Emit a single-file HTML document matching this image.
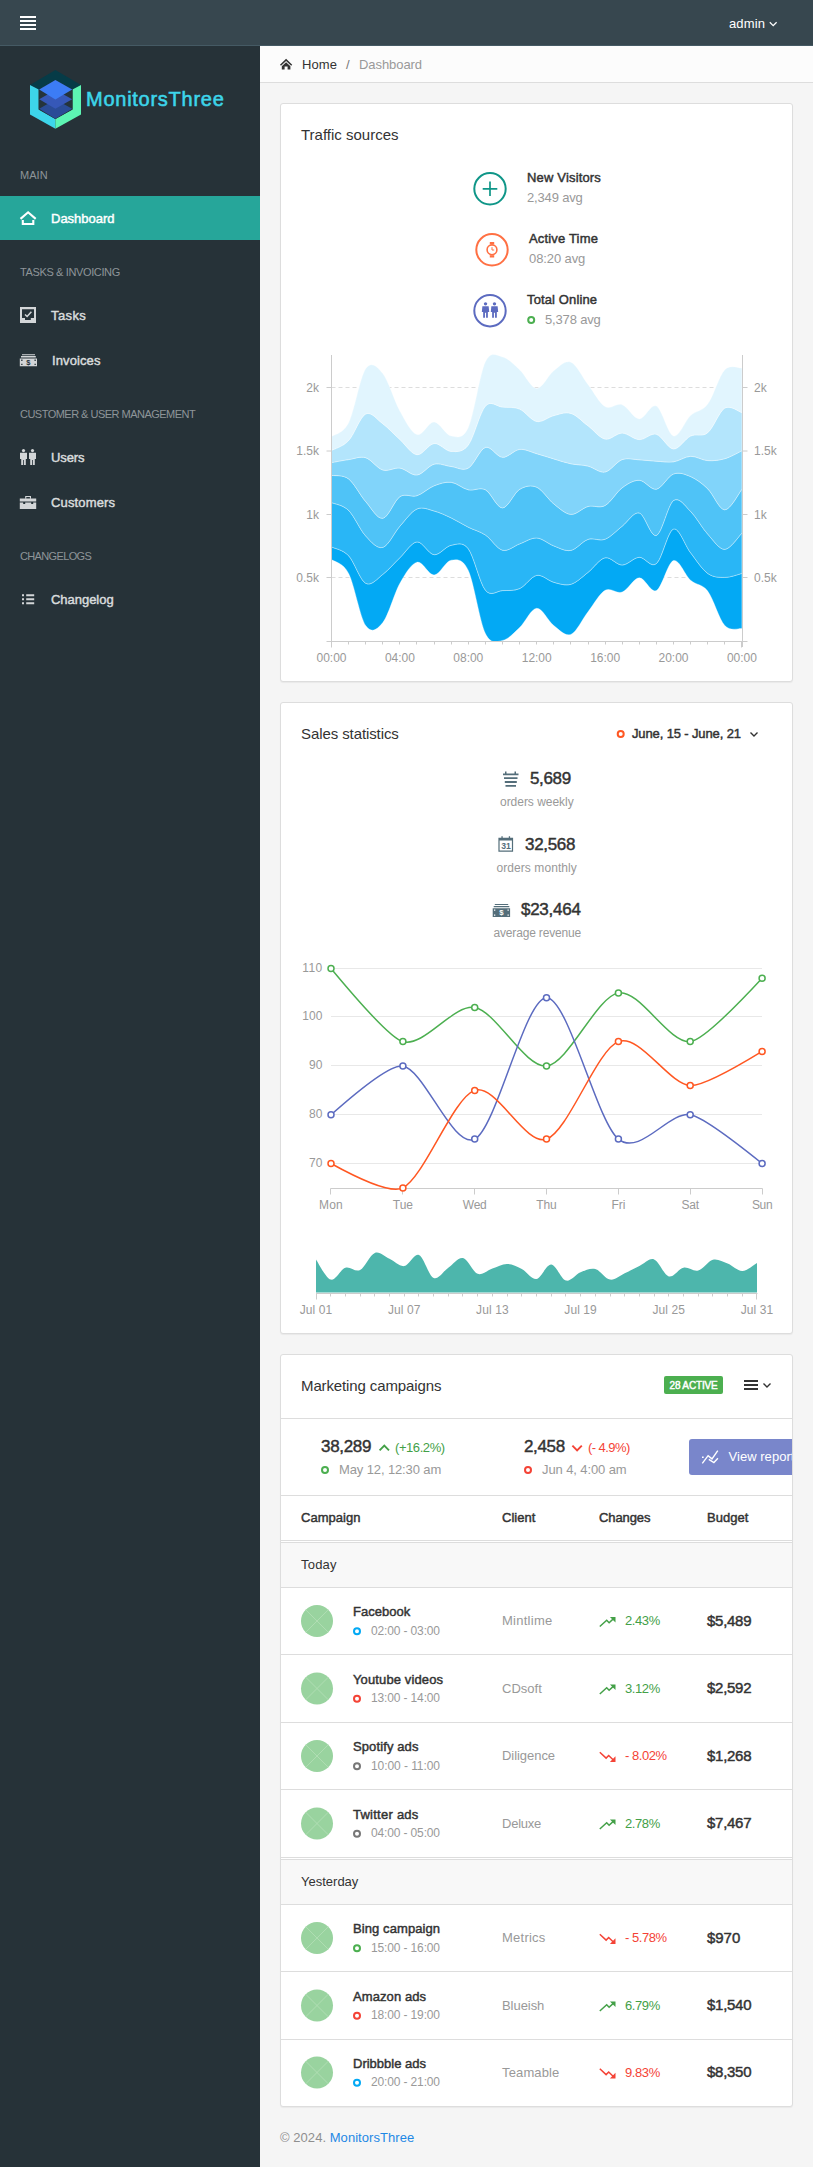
<!DOCTYPE html>
<html lang="en"><head><meta charset="utf-8"><title>MonitorsThree - Dashboard</title>
<style>
*{box-sizing:border-box}
html,body{margin:0;padding:0}
body{width:813px;height:2167px;position:relative;overflow:hidden;background:#f5f5f5;font-family:"Liberation Sans",sans-serif;font-size:13px;color:#333;line-height:1.5385}
.abs{position:absolute}
.t{position:absolute;white-space:nowrap;line-height:1}
#nav{left:0;top:0;width:813px;height:46px;background:#37474f;border-bottom:1px solid #455a64}
#nav .bar{position:absolute;left:20px;width:16px;height:2px;background:#fff}
#side{left:0;top:46px;width:260px;height:2121px;background:#263238}
.sh{color:#8e9598;font-size:11px;left:20px;letter-spacing:0}
.si{color:#d9dcdd;font-size:13px;-webkit-text-stroke:0.45px currentColor;left:51px}
#act{left:0;top:196px;width:260px;height:44px;background:#26a69a}
#bc{left:260px;top:46px;width:553px;height:37px;background:#fcfcfc;border-bottom:1px solid #ddd}
.card{position:absolute;left:280px;width:513px;background:#fff;border:1px solid #ddd;border-radius:3px;box-shadow:0 1px 1px rgba(0,0,0,.05)}
.ct{font-size:15px;color:#333}
.mut{color:#999}
.b{font-weight:normal;-webkit-text-stroke:0.45px currentColor}
svg{position:absolute;left:0;top:0;overflow:visible}
svg text{font-family:"Liberation Sans",sans-serif}
</style></head>
<body>
<div id="nav" class="abs"><div class="bar" style="top:16px"></div><div class="bar" style="top:20px"></div><div class="bar" style="top:24px"></div><div class="bar" style="top:28px"></div><div class="t" style="letter-spacing:0.14px;left:729px;top:17px;font-size:13px;color:#fff">admin</div><svg width="813" height="46"><path d="M769.8 22.3L773.2 25.7L776.6 22.3" fill="none" stroke="#fff" stroke-width="1.3"/></svg></div>
<div id="side" class="abs"></div>
<div id="act" class="abs"></div>
<svg width="260" height="170" style="left:0;top:0">
<polygon points="55.4,70 81,85 72.4,89.6 55.4,80 38.6,89.6 30,85" fill="#063b47"/>
<polygon points="30,85 38.7,89.5 38.7,109.5 55.4,119 55.4,128.7 30,114.6" fill="#3dd5ea"/>
<polygon points="81,85 72.5,89.5 72.5,109.5 55.4,119 55.4,128.7 81,114.6" fill="#5df5b3"/>
<polygon points="38.7,89.5 55.4,80 72.5,89.5 72.5,109.5 55.4,119 38.7,109.5" fill="#25343b"/>
<polygon points="39.2,108.8 55.4,99.5 72.2,108.8 55.4,118.7" fill="#2a4c97"/>
<polygon points="39.2,99.3 55.4,90 72.2,99.3 55.4,108.8" fill="#3658b8"/>
<polygon points="39.2,89.6 55.4,80.1 72.2,89.6 55.4,99.5" fill="#3c7cf5"/>
</svg>
<div class="t" style="letter-spacing:0.74px;left:86px;top:88.5px;font-size:20px;-webkit-text-stroke:0.55px #3dd5ea;color:#3dd5ea">MonitorsThree</div>
<div class="t sh" style="letter-spacing:0.03px;top:170px">MAIN</div><div class="t sh" style="letter-spacing:-0.37px;top:267px">TASKS &amp; INVOICING</div><div class="t sh" style="letter-spacing:-0.52px;top:409px">CUSTOMER &amp; USER MANAGEMENT</div><div class="t sh" style="letter-spacing:-0.64px;top:551px">CHANGELOGS</div><div class="t si" style="top:212px;color:#fff">Dashboard</div><div class="t si" style="letter-spacing:0.40px;top:309px">Tasks</div><div class="t si" style="letter-spacing:0.11px;top:354px;left:52px">Invoices</div><div class="t si" style="letter-spacing:-0.09px;top:451px">Users</div><div class="t si" style="letter-spacing:0.14px;top:496px">Customers</div><div class="t si" style="letter-spacing:-0.03px;top:593px">Changelog</div>
<svg width="260" height="700" style="left:0;top:0">
<g fill="none" stroke="#fff" stroke-width="2.1"><path d="M20.5 218.9L28.1 212.3L35.7 218.9"/><path d="M22.8 220V224H33.3V220"/></g>
<g fill="#d3d6d8">
<path fill-rule="evenodd" d="M20 307h16v16h-16z M22 309.2v8.8h3v2.1h5.8v-2.1h3.2v-8.8z"/>
<path d="M25 314.5l2.1 2l4.3-4.7" fill="none" stroke="#d3d6d8" stroke-width="1.5"/>
<path d="M22 354.2h13v1.1h-13z M21 356.1h14.8v1.3h-14.8z M19.8 358.4h17.2v7.9h-17.2z"/>
<path d="M21.2 359.6h1.3v1.3h-1.3z M34.5 359.6h1.3v1.3h-1.3z M21.2 363.8h1.3v1.3h-1.3z M34.5 363.8h1.3v1.3h-1.3z" fill="#263238"/>
<text x="28.4" y="365.2" font-size="7.5" font-weight="bold" text-anchor="middle" fill="#263238">$</text>
<circle cx="23.5" cy="450.6" r="1.6"/><circle cx="32.5" cy="450.6" r="1.6"/>
<path d="M20 452.8h7v6.3h-1.2v5.8h-1.9v-5h-0.8v5h-1.9v-5.8h-1.2z"/>
<path d="M29 452.8h7v6.3h-1.2v5.8h-1.9v-5h-0.8v5h-1.9v-5.8h-1.2z"/>
<path fill-rule="evenodd" d="M25.2 496h5.8v2.8h-1.1v-1.7h-3.6v1.7h-1.1z"/>
<path d="M19.8 498.6h16.4v2.9h-16.4z M19.8 502.4h3.4v1.6h2v-1.6h6v1.6h2v-1.6h3v6.6h-16.4z"/>
<path d="M22 594.2h2v2h-2z M26.2 594.2h8v2h-8z M22 598.3h2v2h-2z M26.2 598.3h8v2h-8z M22 602.3h2v2h-2z M26.2 602.3h8v2h-8z"/>
</g>
</svg>
<div id="bc" class="abs"></div>
<svg width="813" height="90"><path d="M280.5 65.2L286.1 59.9L291.7 65.2" fill="none" stroke="#333" stroke-width="1.5"/><path d="M286.1 62.3L290.4 66.3V69.6H287.6V66.6H284.6V69.6H281.8V66.3Z" fill="#333"/></svg><div class="t" style="letter-spacing:0.07px;left:302px;top:58px;font-size:13px;color:#333">Home</div><div class="t" style="letter-spacing:1.73px;left:346px;top:58px;font-size:13px;color:#777">/</div><div class="t" style="letter-spacing:-0.07px;left:359px;top:58px;font-size:13px;color:#999">Dashboard</div>
<div class="card" style="top:103px;height:579px"></div>
<div class="t ct" style="left:301px;top:127px">Traffic sources</div>
<svg width="813" height="700">
<circle cx="490" cy="188.8" r="15.7" fill="none" stroke="#0f9688" stroke-width="2"/>
<path d="M490 181.5v14.6M482.7 188.8h14.6" stroke="#0f9688" stroke-width="1.7" fill="none"/>
<circle cx="492" cy="249.8" r="15.7" fill="none" stroke="#ff7043" stroke-width="2"/>
<circle cx="492" cy="249.8" r="4.9" fill="none" stroke="#ff7043" stroke-width="1.6"/>
<path d="M489.8 242h4.4v2.4h-4.4z M489.8 255.2h4.4v2.4h-4.4z" fill="#ff7043"/>
<path d="M492 247.2v2.8h2.2" stroke="#ff7043" stroke-width="1" fill="none"/>
<circle cx="490" cy="310.7" r="15.7" fill="none" stroke="#5c6bc0" stroke-width="2"/>
<g fill="#5c6bc0" transform="translate(490,310.8) scale(1.12) translate(-490,-311.2)"><circle cx="486" cy="305" r="1.5"/><circle cx="494" cy="305" r="1.5"/>
<path d="M483.2 307.2h5.6l0.5 5h-1.2v5.3h-1.6v-4.5h-1v4.5h-1.6v-5.3h-1.2z"/>
<path d="M491.2 307.2h5.6l0.5 5h-1.2v5.3h-1.6v-4.5h-1v4.5h-1.6v-5.3h-1.2z"/></g>
<circle cx="531.2" cy="320" r="3" fill="#fff" stroke="#4caf50" stroke-width="2"/>
</svg>
<div class="t b" style="letter-spacing:0.17px;left:527px;top:171px">New Visitors</div><div class="t mut" style="letter-spacing:-0.16px;left:527px;top:191px">2,349 avg</div><div class="t b" style="letter-spacing:0.17px;left:529px;top:232px">Active Time</div><div class="t mut" style="letter-spacing:-0.10px;left:529px;top:252px">08:20 avg</div><div class="t b" style="letter-spacing:0.13px;left:527px;top:293px">Total Online</div><div class="t mut" style="letter-spacing:-0.16px;left:545px;top:313px">5,378 avg</div>
<svg width="813" height="700"><path d="M331.5 387.5H742.5" stroke="#ddd" stroke-dasharray="4,3" stroke-width="1" fill="none"/><path d="M331.5 451.0H742.5" stroke="#ddd" stroke-dasharray="4,3" stroke-width="1" fill="none"/><path d="M331.5 514.5H742.5" stroke="#ddd" stroke-dasharray="4,3" stroke-width="1" fill="none"/><path d="M331.5 577.5H742.5" stroke="#ddd" stroke-dasharray="4,3" stroke-width="1" fill="none"/><path d="M331.5,546.9C334.4,548.4 342.9,549.6 348.6,555.7C354.3,561.8 360.0,580.2 365.7,583.3C371.4,586.4 377.1,578.7 382.8,574.4C388.5,570.1 394.2,563.1 399.9,557.7C405.6,552.3 411.3,542.4 417.0,541.9C422.7,541.4 428.4,554.1 434.1,554.7C439.8,555.3 445.5,546.3 451.2,545.3C456.9,544.3 462.6,541.3 468.3,548.8C474.0,556.3 479.7,583.2 485.4,590.2C491.1,597.2 496.8,590.9 502.5,590.6C508.2,590.3 513.9,591.1 519.6,588.6C525.3,586.1 531.0,576.5 536.7,575.4C542.4,574.3 548.1,580.8 553.8,582.3C559.5,583.8 565.2,585.9 570.9,584.3C576.6,582.6 582.3,576.8 588.0,572.4C593.7,568.0 599.4,559.0 605.1,557.8C610.8,556.6 616.5,565.1 622.2,565.0C627.9,564.9 633.6,557.5 639.3,557.3C645.0,557.1 650.7,568.3 656.4,563.6C662.1,558.9 667.8,530.9 673.5,529.1C679.2,527.3 684.9,545.4 690.6,552.8C696.3,560.2 702.0,569.3 707.7,573.4C713.4,577.5 719.1,577.4 724.8,577.4C730.5,577.4 739.1,574.1 741.9,573.4L741.9,628.5C739.1,628.0 730.5,631.8 724.8,625.6C719.1,619.4 713.4,598.7 707.7,591.1C702.0,583.5 696.3,585.4 690.6,580.3C684.9,575.2 679.2,558.9 673.5,560.6C667.8,562.3 662.1,587.7 656.4,590.6C650.7,593.5 645.0,577.5 639.3,577.8C633.6,578.0 627.9,590.0 622.2,592.1C616.5,594.2 610.8,587.0 605.1,590.3C599.4,593.6 593.7,604.4 588.0,611.8C582.3,619.1 576.6,632.1 570.9,634.4C565.2,636.7 559.5,630.0 553.8,625.6C548.1,621.2 542.4,608.0 536.7,608.3C531.0,608.6 525.3,622.2 519.6,627.6C513.9,633.0 508.2,639.4 502.5,640.4C496.8,641.4 491.1,645.1 485.4,633.5C479.7,621.9 474.0,582.7 468.3,570.5C462.6,558.3 456.9,559.5 451.2,560.2C445.5,561.0 439.8,574.7 434.1,575.0C428.4,575.3 422.7,560.8 417.0,562.2C411.3,563.6 405.6,573.2 399.9,583.3C394.2,593.4 388.5,615.5 382.8,622.6C377.1,629.7 371.4,633.8 365.7,625.6C360.0,617.4 354.3,584.4 348.6,573.4C342.9,562.4 334.4,561.9 331.5,559.6Z" fill="#03a9f4" stroke="#fff" stroke-opacity="0.55" stroke-width="0.6"/><path d="M331.5,502.6C334.4,503.9 342.9,504.8 348.6,510.4C354.3,516.0 360.0,529.8 365.7,536.0C371.4,542.2 377.1,549.0 382.8,547.4C388.5,545.8 394.2,532.6 399.9,526.2C405.6,519.8 411.3,511.5 417.0,509.0C422.7,506.5 428.4,509.5 434.1,511.0C439.8,512.5 445.5,515.2 451.2,517.9C456.9,520.6 462.6,524.4 468.3,527.2C474.0,530.1 479.7,531.2 485.4,535.0C491.1,538.8 496.8,548.7 502.5,550.2C508.2,551.7 513.9,545.9 519.6,543.9C525.3,541.9 531.0,537.7 536.7,538.0C542.4,538.3 548.1,543.8 553.8,545.9C559.5,548.0 565.2,551.5 570.9,550.4C576.6,549.3 582.3,541.3 588.0,539.4C593.7,537.5 599.4,541.4 605.1,539.2C610.8,537.0 616.5,530.6 622.2,526.2C627.9,521.8 633.6,511.5 639.3,513.0C645.0,514.5 650.7,537.5 656.4,535.4C662.1,533.3 667.8,504.6 673.5,500.6C679.2,496.6 684.9,505.8 690.6,511.4C696.3,517.0 702.0,527.8 707.7,534.1C713.4,540.4 719.1,549.6 724.8,549.4C730.5,549.2 739.1,535.8 741.9,533.1L741.9,573.4C739.1,574.1 730.5,577.4 724.8,577.4C719.1,577.4 713.4,577.5 707.7,573.4C702.0,569.3 696.3,560.2 690.6,552.8C684.9,545.4 679.2,527.3 673.5,529.1C667.8,530.9 662.1,558.9 656.4,563.6C650.7,568.3 645.0,557.1 639.3,557.3C633.6,557.5 627.9,564.9 622.2,565.0C616.5,565.1 610.8,556.6 605.1,557.8C599.4,559.0 593.7,568.0 588.0,572.4C582.3,576.8 576.6,582.6 570.9,584.3C565.2,585.9 559.5,583.8 553.8,582.3C548.1,580.8 542.4,574.3 536.7,575.4C531.0,576.5 525.3,586.1 519.6,588.6C513.9,591.1 508.2,590.3 502.5,590.6C496.8,590.9 491.1,597.2 485.4,590.2C479.7,583.2 474.0,556.3 468.3,548.8C462.6,541.3 456.9,544.3 451.2,545.3C445.5,546.3 439.8,555.3 434.1,554.7C428.4,554.1 422.7,541.4 417.0,541.9C411.3,542.4 405.6,552.3 399.9,557.7C394.2,563.1 388.5,570.1 382.8,574.4C377.1,578.7 371.4,586.4 365.7,583.3C360.0,580.2 354.3,561.8 348.6,555.7C342.9,549.6 334.4,548.4 331.5,546.9Z" fill="#29b6f6" stroke="#fff" stroke-opacity="0.55" stroke-width="0.6"/><path d="M331.5,475.4C334.4,476.0 342.9,474.5 348.6,478.9C354.3,483.3 360.0,495.0 365.7,501.6C371.4,508.2 377.1,519.1 382.8,518.3C388.5,517.5 394.2,500.5 399.9,496.7C405.6,492.9 411.3,497.5 417.0,495.7C422.7,493.9 428.4,488.0 434.1,485.8C439.8,483.6 445.5,481.6 451.2,482.3C456.9,483.0 462.6,488.6 468.3,489.8C474.0,491.1 479.7,486.8 485.4,489.8C491.1,492.8 496.8,508.0 502.5,507.9C508.2,507.8 513.9,492.8 519.6,489.4C525.3,485.9 531.0,484.8 536.7,487.2C542.4,489.6 548.1,499.4 553.8,503.9C559.5,508.4 565.2,514.0 570.9,514.4C576.6,514.8 582.3,508.0 588.0,506.5C593.7,505.0 599.4,508.6 605.1,505.5C610.8,502.4 616.5,492.0 622.2,487.8C627.9,483.6 633.6,480.1 639.3,480.3C645.0,480.5 650.7,490.2 656.4,489.2C662.1,488.1 667.8,476.1 673.5,474.0C679.2,471.9 684.9,474.1 690.6,476.6C696.3,479.1 702.0,483.3 707.7,488.8C713.4,494.3 719.1,509.7 724.8,509.8C730.5,509.9 739.1,492.6 741.9,489.2L741.9,533.1C739.1,535.8 730.5,549.2 724.8,549.4C719.1,549.6 713.4,540.4 707.7,534.1C702.0,527.8 696.3,517.0 690.6,511.4C684.9,505.8 679.2,496.6 673.5,500.6C667.8,504.6 662.1,533.3 656.4,535.4C650.7,537.5 645.0,514.5 639.3,513.0C633.6,511.5 627.9,521.8 622.2,526.2C616.5,530.6 610.8,537.0 605.1,539.2C599.4,541.4 593.7,537.5 588.0,539.4C582.3,541.3 576.6,549.3 570.9,550.4C565.2,551.5 559.5,548.0 553.8,545.9C548.1,543.8 542.4,538.3 536.7,538.0C531.0,537.7 525.3,541.9 519.6,543.9C513.9,545.9 508.2,551.7 502.5,550.2C496.8,548.7 491.1,538.8 485.4,535.0C479.7,531.2 474.0,530.1 468.3,527.2C462.6,524.4 456.9,520.6 451.2,517.9C445.5,515.2 439.8,512.5 434.1,511.0C428.4,509.5 422.7,506.5 417.0,509.0C411.3,511.5 405.6,519.8 399.9,526.2C394.2,532.6 388.5,545.8 382.8,547.4C377.1,549.0 371.4,542.2 365.7,536.0C360.0,529.8 354.3,516.0 348.6,510.4C342.9,504.8 334.4,503.9 331.5,502.6Z" fill="#4fc3f7" stroke="#fff" stroke-opacity="0.55" stroke-width="0.6"/><path d="M331.5,462.6C334.4,462.1 342.9,460.4 348.6,459.6C354.3,458.8 360.0,456.0 365.7,457.7C371.4,459.4 377.1,468.3 382.8,470.0C388.5,471.7 394.2,467.3 399.9,468.1C405.6,468.9 411.3,475.6 417.0,475.0C422.7,474.4 428.4,465.6 434.1,464.2C439.8,462.8 445.5,465.9 451.2,466.5C456.9,467.1 462.6,471.3 468.3,468.1C474.0,464.9 479.7,449.2 485.4,447.4C491.1,445.6 496.8,457.0 502.5,457.3C508.2,457.6 513.9,450.0 519.6,449.4C525.3,448.8 531.0,452.1 536.7,453.7C542.4,455.3 548.1,457.2 553.8,458.9C559.5,460.6 565.2,462.6 570.9,463.8C576.6,465.0 582.3,464.7 588.0,466.1C593.7,467.5 599.4,473.1 605.1,472.0C610.8,470.9 616.5,461.6 622.2,459.6C627.9,457.6 633.6,459.5 639.3,459.8C645.0,460.1 650.7,460.9 656.4,461.2C662.1,461.5 667.8,462.6 673.5,461.8C679.2,461.0 684.9,456.5 690.6,456.3C696.3,456.1 702.0,460.2 707.7,460.6C713.4,461.0 719.1,460.3 724.8,458.7C730.5,457.1 739.1,452.1 741.9,450.8L741.9,489.2C739.1,492.6 730.5,509.9 724.8,509.8C719.1,509.7 713.4,494.3 707.7,488.8C702.0,483.3 696.3,479.1 690.6,476.6C684.9,474.1 679.2,471.9 673.5,474.0C667.8,476.1 662.1,488.1 656.4,489.2C650.7,490.2 645.0,480.5 639.3,480.3C633.6,480.1 627.9,483.6 622.2,487.8C616.5,492.0 610.8,502.4 605.1,505.5C599.4,508.6 593.7,505.0 588.0,506.5C582.3,508.0 576.6,514.8 570.9,514.4C565.2,514.0 559.5,508.4 553.8,503.9C548.1,499.4 542.4,489.6 536.7,487.2C531.0,484.8 525.3,485.9 519.6,489.4C513.9,492.8 508.2,507.8 502.5,507.9C496.8,508.0 491.1,492.8 485.4,489.8C479.7,486.8 474.0,491.1 468.3,489.8C462.6,488.6 456.9,483.0 451.2,482.3C445.5,481.6 439.8,483.6 434.1,485.8C428.4,488.0 422.7,493.9 417.0,495.7C411.3,497.5 405.6,492.9 399.9,496.7C394.2,500.5 388.5,517.5 382.8,518.3C377.1,519.1 371.4,508.2 365.7,501.6C360.0,495.0 354.3,483.3 348.6,478.9C342.9,474.5 334.4,476.0 331.5,475.4Z" fill="#81d4fa" stroke="#fff" stroke-opacity="0.55" stroke-width="0.6"/><path d="M331.5,450.4C334.4,448.8 342.9,446.7 348.6,440.6C354.3,434.5 360.0,416.8 365.7,414.0C371.4,411.2 377.1,419.5 382.8,423.8C388.5,428.1 394.2,434.5 399.9,439.6C405.6,444.8 411.3,454.1 417.0,454.7C422.7,455.3 428.4,444.1 434.1,443.5C439.8,442.9 445.5,451.1 451.2,451.4C456.9,451.6 462.6,452.6 468.3,445.0C474.0,437.4 479.7,412.4 485.4,406.1C491.1,399.8 496.8,406.6 502.5,407.1C508.2,407.6 513.9,406.7 519.6,409.1C525.3,411.5 531.0,420.4 536.7,421.5C542.4,422.6 548.1,417.0 553.8,415.6C559.5,414.2 565.2,411.7 570.9,413.4C576.6,415.1 582.3,421.5 588.0,425.8C593.7,430.1 599.4,437.9 605.1,439.1C610.8,440.3 616.5,433.0 622.2,433.1C627.9,433.2 633.6,439.4 639.3,439.6C645.0,439.8 650.7,432.7 656.4,434.3C662.1,435.9 667.8,448.7 673.5,449.0C679.2,449.3 684.9,438.7 690.6,436.0C696.3,433.3 702.0,437.3 707.7,432.7C713.4,428.1 719.1,411.5 724.8,408.1C730.5,404.8 739.1,411.9 741.9,412.6L741.9,450.8C739.1,452.1 730.5,457.1 724.8,458.7C719.1,460.3 713.4,461.0 707.7,460.6C702.0,460.2 696.3,456.1 690.6,456.3C684.9,456.5 679.2,461.0 673.5,461.8C667.8,462.6 662.1,461.5 656.4,461.2C650.7,460.9 645.0,460.1 639.3,459.8C633.6,459.5 627.9,457.6 622.2,459.6C616.5,461.6 610.8,470.9 605.1,472.0C599.4,473.1 593.7,467.5 588.0,466.1C582.3,464.7 576.6,465.0 570.9,463.8C565.2,462.6 559.5,460.6 553.8,458.9C548.1,457.2 542.4,455.3 536.7,453.7C531.0,452.1 525.3,448.8 519.6,449.4C513.9,450.0 508.2,457.6 502.5,457.3C496.8,457.0 491.1,445.6 485.4,447.4C479.7,449.2 474.0,464.9 468.3,468.1C462.6,471.3 456.9,467.1 451.2,466.5C445.5,465.9 439.8,462.8 434.1,464.2C428.4,465.6 422.7,474.4 417.0,475.0C411.3,475.6 405.6,468.9 399.9,468.1C394.2,467.3 388.5,471.7 382.8,470.0C377.1,468.3 371.4,459.4 365.7,457.7C360.0,456.0 354.3,458.8 348.6,459.6C342.9,460.4 334.4,462.1 331.5,462.6Z" fill="#b3e5fc" stroke="#fff" stroke-opacity="0.55" stroke-width="0.6"/><path d="M331.5,436.6C334.4,434.3 342.9,434.1 348.6,422.8C354.3,411.5 360.0,376.9 365.7,368.7C371.4,360.5 377.1,366.6 382.8,373.6C388.5,380.7 394.2,400.8 399.9,411.0C405.6,421.2 411.3,432.8 417.0,434.6C422.7,436.4 428.4,421.7 434.1,421.9C439.8,422.1 445.5,435.1 451.2,436.0C456.9,436.9 462.6,439.9 468.3,427.5C474.0,415.1 479.7,373.6 485.4,361.8C491.1,350.0 496.8,355.6 502.5,356.9C508.2,358.2 513.9,364.4 519.6,369.7C525.3,374.9 531.0,388.2 536.7,388.4C542.4,388.6 548.1,375.1 553.8,370.7C559.5,366.3 565.2,359.9 570.9,362.2C576.6,364.5 582.3,377.0 588.0,384.4C593.7,391.8 599.4,403.2 605.1,406.6C610.8,410.0 616.5,402.6 622.2,404.7C627.9,406.8 633.6,418.7 639.3,418.9C645.0,419.1 650.7,403.2 656.4,406.1C662.1,409.0 667.8,434.4 673.5,436.0C679.2,437.6 684.9,420.9 690.6,415.6C696.3,410.3 702.0,411.8 707.7,404.1C713.4,396.5 719.1,375.7 724.8,369.7C730.5,363.7 739.1,368.4 741.9,368.1L741.9,412.6C739.1,411.9 730.5,404.8 724.8,408.1C719.1,411.5 713.4,428.1 707.7,432.7C702.0,437.3 696.3,433.3 690.6,436.0C684.9,438.7 679.2,449.3 673.5,449.0C667.8,448.7 662.1,435.9 656.4,434.3C650.7,432.7 645.0,439.8 639.3,439.6C633.6,439.4 627.9,433.2 622.2,433.1C616.5,433.0 610.8,440.3 605.1,439.1C599.4,437.9 593.7,430.1 588.0,425.8C582.3,421.5 576.6,415.1 570.9,413.4C565.2,411.7 559.5,414.2 553.8,415.6C548.1,417.0 542.4,422.6 536.7,421.5C531.0,420.4 525.3,411.5 519.6,409.1C513.9,406.7 508.2,407.6 502.5,407.1C496.8,406.6 491.1,399.8 485.4,406.1C479.7,412.4 474.0,437.4 468.3,445.0C462.6,452.6 456.9,451.6 451.2,451.4C445.5,451.1 439.8,442.9 434.1,443.5C428.4,444.1 422.7,455.3 417.0,454.7C411.3,454.1 405.6,444.8 399.9,439.6C394.2,434.5 388.5,428.1 382.8,423.8C377.1,419.5 371.4,411.2 365.7,414.0C360.0,416.8 354.3,434.5 348.6,440.6C342.9,446.7 334.4,448.8 331.5,450.4Z" fill="#e1f5fe" stroke="#fff" stroke-opacity="0.55" stroke-width="0.6"/><path d="M326.5 641.5H742.5 M331.5 355V647 M742.5 355V647" stroke="#ccc" stroke-width="1" fill="none"/><path d="M331.5 641.5v6M348.5 641.5v3M365.5 641.5v3M382.5 641.5v3M399.5 641.5v3M416.5 641.5v3M434.5 641.5v3M451.5 641.5v3M468.5 641.5v3M485.5 641.5v3M502.5 641.5v3M519.5 641.5v3M536.5 641.5v3M553.5 641.5v3M570.5 641.5v3M588.5 641.5v3M605.5 641.5v3M622.5 641.5v3M639.5 641.5v3M656.5 641.5v3M673.5 641.5v3M690.5 641.5v3M707.5 641.5v3M724.5 641.5v3M741.5 641.5v6M326.5 387.5h5M742.5 387.5h5M326.5 451.0h5M742.5 451.0h5M326.5 514.5h5M742.5 514.5h5M326.5 577.5h5M742.5 577.5h5M742.5 641.5h5" stroke="#ccc" stroke-width="1" fill="none"/><text x="319" y="391.7" font-size="12" fill="#999" text-anchor="end" letter-spacing="0.07">2k</text><text x="754" y="391.7" font-size="12" fill="#999" letter-spacing="0.07">2k</text><text x="319" y="455.2" font-size="12" fill="#999" text-anchor="end">1.5k</text><text x="754" y="455.2" font-size="12" fill="#999">1.5k</text><text x="319" y="518.7" font-size="12" fill="#999" text-anchor="end" letter-spacing="0.07">1k</text><text x="754" y="518.7" font-size="12" fill="#999" letter-spacing="0.07">1k</text><text x="319" y="581.7" font-size="12" fill="#999" text-anchor="end">0.5k</text><text x="754" y="581.7" font-size="12" fill="#999">0.5k</text><text x="331.5" y="662" font-size="12" fill="#999" text-anchor="middle" letter-spacing="-0.03">00:00</text><text x="399.9" y="662" font-size="12" fill="#999" text-anchor="middle" letter-spacing="-0.03">04:00</text><text x="468.3" y="662" font-size="12" fill="#999" text-anchor="middle" letter-spacing="-0.03">08:00</text><text x="536.7" y="662" font-size="12" fill="#999" text-anchor="middle" letter-spacing="-0.03">12:00</text><text x="605.1" y="662" font-size="12" fill="#999" text-anchor="middle" letter-spacing="-0.03">16:00</text><text x="673.5" y="662" font-size="12" fill="#999" text-anchor="middle" letter-spacing="-0.03">20:00</text><text x="741.9" y="662" font-size="12" fill="#999" text-anchor="middle" letter-spacing="-0.03">00:00</text></svg>
<div class="card" style="top:702px;height:632px"></div>
<div class="t ct" style="letter-spacing:-0.09px;left:301px;top:726px">Sales statistics</div>
<div class="t b" style="letter-spacing:-0.13px;left:632px;top:727.3px">June, 15 - June, 21</div>
<div class="t b" style="letter-spacing:-0.36px;left:530px;top:770px;font-size:17px">5,689</div><div class="t mut" style="letter-spacing:-0.03px;left:500px;top:796px;font-size:12px">orders weekly</div><div class="t b" style="letter-spacing:-0.31px;left:525px;top:836px;font-size:17px">32,568</div><div class="t mut" style="letter-spacing:0.07px;left:496.5px;top:862px;font-size:12px">orders monthly</div><div class="t b" style="letter-spacing:-0.27px;left:521px;top:901px;font-size:17px">$23,464</div><div class="t mut" style="letter-spacing:-0.17px;left:493.5px;top:926.7px;font-size:12px">average revenue</div>
<svg width="813" height="1340"><circle cx="620.7" cy="734" r="3" fill="#fff" stroke="#ff5722" stroke-width="2"/><path d="M750.5 732.5l3.5 3.5l3.5-3.5" fill="none" stroke="#333" stroke-width="1.4"/><g fill="#546e7a"><path d="M505 771.5h1.5v3h-1.5z M514.5 771.5h1.5v3h-1.5z M503 773.5h15.5v1.8h-15.5z M504 777.3h13.5v1.8h-13.5z M504.8 781.1h12v1.8h-12z M505.5 784.9h10.5v1.8h-10.5z"/><path fill-rule="evenodd" d="M498.4 837.8h14.7v14h-14.7z M499.6 840.4h12.3v10.2h-12.3z"/><path d="M501.4 836.2h1.3v2.4h-1.3z M508.8 836.2h1.3v2.4h-1.3z"/><text x="505.9" y="849.4" font-size="8.6" font-weight="bold" text-anchor="middle" fill="#546e7a" style="letter-spacing:-0.2px">31</text><path d="M494.8 904h13.4v1.1h-13.4z M493.7 906h15.6v1.2h-15.6z M492.7 908.2h17.4v8.7h-17.4z"/><path d="M494 909.4h1.3v1.3h-1.3z M507.5 909.4h1.3v1.3h-1.3z M494 914.4h1.3v1.3h-1.3z M507.5 914.4h1.3v1.3h-1.3z" fill="#fff"/><text x="501.4" y="915.4" font-size="7.8" font-weight="bold" text-anchor="middle" fill="#fff">$</text></g><path d="M331 968.5H762" stroke="#e8e8e8" stroke-width="1" fill="none"/><text x="322.5" y="972.3" font-size="12" fill="#999" text-anchor="end" letter-spacing="0.36">110</text><path d="M331 1016.5H762" stroke="#e8e8e8" stroke-width="1" fill="none"/><text x="322.5" y="1020.3" font-size="12" fill="#999" text-anchor="end" letter-spacing="0.06">100</text><path d="M331 1065.5H762" stroke="#e8e8e8" stroke-width="1" fill="none"/><text x="322.5" y="1069.3" font-size="12" fill="#999" text-anchor="end" letter-spacing="0.06">90</text><path d="M331 1114.5H762" stroke="#e8e8e8" stroke-width="1" fill="none"/><text x="322.5" y="1118.3" font-size="12" fill="#999" text-anchor="end" letter-spacing="0.06">80</text><path d="M331 1163.5H762" stroke="#e8e8e8" stroke-width="1" fill="none"/><text x="322.5" y="1167.3" font-size="12" fill="#999" text-anchor="end" letter-spacing="0.06">70</text><path d="M330.5 1188.5H762.5M330.5 1188.5v6M402.5 1188.5v6M474.5 1188.5v6M546.5 1188.5v6M618.5 1188.5v6M690.5 1188.5v6M762.5 1188.5v6" stroke="#ccc" stroke-width="1" fill="none"/><text x="331.0" y="1209" font-size="12" fill="#999" text-anchor="middle" letter-spacing="0.20">Mon</text><text x="402.9" y="1209" font-size="12" fill="#999" text-anchor="middle" letter-spacing="-0.03">Tue</text><text x="474.7" y="1209" font-size="12" fill="#999" text-anchor="middle" letter-spacing="-0.23">Wed</text><text x="546.5" y="1209" font-size="12" fill="#999" text-anchor="middle" letter-spacing="-0.10">Thu</text><text x="618.4" y="1209" font-size="12" fill="#999" text-anchor="middle" letter-spacing="-0.13">Fri</text><text x="690.2" y="1209" font-size="12" fill="#999" text-anchor="middle" letter-spacing="-0.15">Sat</text><text x="762.1" y="1209" font-size="12" fill="#999" text-anchor="middle" letter-spacing="-0.33">Sun</text><path d="M331.00,968.50Q388.48,1037.72 402.85,1041.62C424.41,1047.47 453.14,1003.84 474.70,1007.50S525.00,1068.19 546.55,1066.00S596.84,996.53 618.40,992.88S668.70,1043.82 690.25,1041.62Q704.62,1040.16 762.10,978.25" fill="none" stroke="#4caf50" stroke-width="1.5"/><path d="M331.00,1114.75Q388.48,1063.56 402.85,1066.00C424.41,1069.66 453.14,1149.36 474.70,1139.12S525.00,997.75 546.55,997.75S596.84,1121.58 618.40,1139.12S668.70,1111.09 690.25,1114.75Q704.62,1117.19 762.10,1163.50" fill="none" stroke="#5c6bc0" stroke-width="1.5"/><path d="M331.00,1163.50Q388.48,1195.19 402.85,1187.88C424.41,1176.91 453.14,1097.69 474.70,1090.38S525.00,1146.44 546.55,1139.12S596.84,1049.67 618.40,1041.62S668.70,1084.04 690.25,1085.50Q704.62,1086.47 762.10,1051.38" fill="none" stroke="#ff5722" stroke-width="1.5"/><circle cx="331.0" cy="968.5" r="3" fill="#fff" stroke="#4caf50" stroke-width="1.5"/><circle cx="402.9" cy="1041.6" r="3" fill="#fff" stroke="#4caf50" stroke-width="1.5"/><circle cx="474.7" cy="1007.5" r="3" fill="#fff" stroke="#4caf50" stroke-width="1.5"/><circle cx="546.5" cy="1066.0" r="3" fill="#fff" stroke="#4caf50" stroke-width="1.5"/><circle cx="618.4" cy="992.9" r="3" fill="#fff" stroke="#4caf50" stroke-width="1.5"/><circle cx="690.2" cy="1041.6" r="3" fill="#fff" stroke="#4caf50" stroke-width="1.5"/><circle cx="762.1" cy="978.2" r="3" fill="#fff" stroke="#4caf50" stroke-width="1.5"/><circle cx="331.0" cy="1114.8" r="3" fill="#fff" stroke="#5c6bc0" stroke-width="1.5"/><circle cx="402.9" cy="1066.0" r="3" fill="#fff" stroke="#5c6bc0" stroke-width="1.5"/><circle cx="474.7" cy="1139.1" r="3" fill="#fff" stroke="#5c6bc0" stroke-width="1.5"/><circle cx="546.5" cy="997.8" r="3" fill="#fff" stroke="#5c6bc0" stroke-width="1.5"/><circle cx="618.4" cy="1139.1" r="3" fill="#fff" stroke="#5c6bc0" stroke-width="1.5"/><circle cx="690.2" cy="1114.8" r="3" fill="#fff" stroke="#5c6bc0" stroke-width="1.5"/><circle cx="762.1" cy="1163.5" r="3" fill="#fff" stroke="#5c6bc0" stroke-width="1.5"/><circle cx="331.0" cy="1163.5" r="3" fill="#fff" stroke="#ff5722" stroke-width="1.5"/><circle cx="402.9" cy="1187.9" r="3" fill="#fff" stroke="#ff5722" stroke-width="1.5"/><circle cx="474.7" cy="1090.4" r="3" fill="#fff" stroke="#ff5722" stroke-width="1.5"/><circle cx="546.5" cy="1139.1" r="3" fill="#fff" stroke="#ff5722" stroke-width="1.5"/><circle cx="618.4" cy="1041.6" r="3" fill="#fff" stroke="#ff5722" stroke-width="1.5"/><circle cx="690.2" cy="1085.5" r="3" fill="#fff" stroke="#ff5722" stroke-width="1.5"/><circle cx="762.1" cy="1051.4" r="3" fill="#fff" stroke="#ff5722" stroke-width="1.5"/><path d="M316.0,1259.4C318.4,1262.8 325.8,1278.2 330.7,1279.6C335.6,1281.0 340.5,1269.3 345.4,1267.7C350.3,1266.1 355.2,1272.5 360.1,1270.0C365.0,1267.5 369.9,1254.9 374.8,1253.0C379.7,1251.1 384.6,1256.6 389.5,1258.8C394.4,1261.0 399.3,1266.7 404.2,1266.1C409.1,1265.5 414.0,1253.0 418.9,1255.0C423.8,1257.0 428.7,1275.9 433.6,1278.0C438.5,1280.1 443.4,1271.0 448.3,1267.7C453.2,1264.4 458.1,1257.1 463.0,1258.1C467.9,1259.1 472.8,1272.1 477.7,1273.8C482.6,1275.5 487.5,1270.1 492.4,1268.4C497.3,1266.8 502.2,1263.8 507.1,1263.9C512.0,1264.0 516.9,1266.5 521.8,1269.0C526.7,1271.5 531.6,1279.8 536.5,1279.0C541.4,1278.2 546.3,1264.2 551.2,1264.5C556.1,1264.8 561.0,1279.2 565.9,1280.5C570.8,1281.8 575.7,1274.1 580.6,1272.2C585.5,1270.3 590.4,1267.8 595.3,1269.0C600.2,1270.2 605.1,1278.9 610.0,1279.6C614.9,1280.3 619.8,1275.5 624.7,1273.2C629.6,1271.0 634.5,1268.4 639.4,1266.1C644.3,1263.8 649.2,1257.7 654.1,1259.4C659.0,1261.1 663.9,1275.0 668.8,1276.4C673.7,1277.8 678.6,1268.7 683.5,1267.7C688.4,1266.7 693.3,1271.9 698.2,1270.6C703.1,1269.3 708.0,1260.9 712.9,1259.7C717.8,1258.5 722.7,1261.7 727.6,1263.6C732.5,1265.5 737.4,1271.1 742.3,1271.0C747.2,1270.9 754.5,1264.3 757.0,1263.0L757,1292.5L316,1292.5Z" fill="#4db6ac"/><path d="M316 1293.5H757.5M316.5 1293.5v6M330.5 1293.5v3M345.5 1293.5v3M360.5 1293.5v3M374.5 1293.5v3M389.5 1293.5v3M404.5 1293.5v3M418.5 1293.5v3M433.5 1293.5v3M448.5 1293.5v3M462.5 1293.5v3M477.5 1293.5v3M492.5 1293.5v3M507.5 1293.5v3M521.5 1293.5v3M536.5 1293.5v3M551.5 1293.5v3M565.5 1293.5v3M580.5 1293.5v3M595.5 1293.5v3M610.5 1293.5v3M624.5 1293.5v3M639.5 1293.5v3M654.5 1293.5v3M668.5 1293.5v3M683.5 1293.5v3M698.5 1293.5v3M712.5 1293.5v3M727.5 1293.5v3M742.5 1293.5v3M756.5 1293.5v6" stroke="#ccc" stroke-width="1" fill="none"/><text x="316.0" y="1313.5" font-size="12" fill="#999" text-anchor="middle" letter-spacing="0.09">Jul 01</text><text x="404.2" y="1313.5" font-size="12" fill="#999" text-anchor="middle" letter-spacing="0.09">Jul 07</text><text x="492.4" y="1313.5" font-size="12" fill="#999" text-anchor="middle" letter-spacing="0.09">Jul 13</text><text x="580.6" y="1313.5" font-size="12" fill="#999" text-anchor="middle" letter-spacing="0.09">Jul 19</text><text x="668.8" y="1313.5" font-size="12" fill="#999" text-anchor="middle" letter-spacing="0.09">Jul 25</text><text x="757.0" y="1313.5" font-size="12" fill="#999" text-anchor="middle" letter-spacing="0.09">Jul 31</text></svg>
<div class="card" style="top:1354px;height:753px;overflow:hidden"></div>
<div class="abs" style="left:281px;top:1418px;width:511px;height:1px;background:#ddd"></div><div class="abs" style="left:281px;top:1495px;width:511px;height:1px;background:#ddd"></div><div class="abs" style="left:281px;top:1540px;width:511px;height:1px;background:#ddd"></div><div class="abs" style="left:281px;top:1542px;width:511px;height:45px;background:#f8f8f8;border-top:1px solid #ddd"></div><div class="abs" style="left:281px;top:1587px;width:511px;height:1px;background:#ddd"></div><div class="abs" style="left:281px;top:1654px;width:511px;height:1px;background:#ddd"></div><div class="abs" style="left:281px;top:1722px;width:511px;height:1px;background:#ddd"></div><div class="abs" style="left:281px;top:1789px;width:511px;height:1px;background:#ddd"></div><div class="abs" style="left:281px;top:1857px;width:511px;height:1px;background:#ddd"></div><div class="abs" style="left:281px;top:1859px;width:511px;height:45px;background:#f8f8f8;border-top:1px solid #ddd"></div><div class="abs" style="left:281px;top:1904px;width:511px;height:1px;background:#ddd"></div><div class="abs" style="left:281px;top:1971px;width:511px;height:1px;background:#ddd"></div><div class="abs" style="left:281px;top:2039px;width:511px;height:1px;background:#ddd"></div>
<div class="t ct" style="letter-spacing:-0.12px;left:301px;top:1378px">Marketing campaigns</div><div class="abs" style="left:664px;top:1376px;width:59px;height:18px;background:#4caf50;border-radius:2px"></div><div class="t b" style="letter-spacing:-0.16px;left:669.5px;top:1380.5px;font-size:10px;color:#fff">28 ACTIVE</div><div class="abs" style="left:744px;top:1380px;width:14px;height:2px;background:#333"></div><div class="abs" style="left:744px;top:1384px;width:14px;height:2px;background:#333"></div><div class="abs" style="left:744px;top:1388px;width:14px;height:2px;background:#333"></div>
<div class="t b" style="letter-spacing:-0.31px;left:321px;top:1438px;font-size:17px">38,289</div><div class="t" style="letter-spacing:-0.43px;left:395px;top:1441px;color:#43a047">(+16.2%)</div><div class="t mut" style="letter-spacing:-0.12px;left:339px;top:1463px">May 12, 12:30 am</div><div class="t b" style="letter-spacing:-0.36px;left:524px;top:1438px;font-size:17px">2,458</div><div class="t" style="letter-spacing:-0.55px;left:588px;top:1441px;color:#f44336">(- 4.9%)</div><div class="t mut" style="letter-spacing:-0.10px;left:542px;top:1463px">Jun 4, 4:00 am</div><div class="abs" style="left:689px;top:1439px;width:103px;height:36px;background:#7986cb;border-radius:3px 0 0 3px;overflow:hidden"><div class="t" style="letter-spacing:0.04px;left:39.5px;top:11px;color:#fff">View report</div></div>
<div class="t b" style="letter-spacing:0.04px;left:301px;top:1511px">Campaign</div><div class="t b" style="letter-spacing:0.04px;left:502px;top:1511px">Client</div><div class="t b" style="letter-spacing:-0.10px;left:599px;top:1511px">Changes</div><div class="t b" style="letter-spacing:0.05px;left:707px;top:1511px">Budget</div><div class="t" style="letter-spacing:0.20px;left:301px;top:1558px">Today</div><div class="t" style="left:301px;top:1875px">Yesterday</div>
<div class="t b" style="letter-spacing:0.03px;left:353px;top:1605.0px">Facebook</div><div class="t mut" style="letter-spacing:-0.14px;left:371px;top:1624.5px;font-size:12px">02:00 - 03:00</div><div class="t mut" style="letter-spacing:0.26px;left:502px;top:1614.0px">Mintlime</div><div class="t" style="letter-spacing:-0.41px;left:625px;top:1614.0px;color:#43a047">2.43%</div><div class="t b" style="letter-spacing:-0.27px;left:707px;top:1612.6px;font-size:15px">$5,489</div>
<div class="t b" style="letter-spacing:0.12px;left:353px;top:1672.5px">Youtube videos</div><div class="t mut" style="letter-spacing:-0.14px;left:371px;top:1692.0px;font-size:12px">13:00 - 14:00</div><div class="t mut" style="letter-spacing:0.02px;left:502px;top:1681.5px">CDsoft</div><div class="t" style="letter-spacing:-0.41px;left:625px;top:1681.5px;color:#43a047">3.12%</div><div class="t b" style="letter-spacing:-0.27px;left:707px;top:1680.1px;font-size:15px">$2,592</div>
<div class="t b" style="letter-spacing:0.11px;left:353px;top:1740.0px">Spotify ads</div><div class="t mut" style="letter-spacing:-0.07px;left:371px;top:1759.5px;font-size:12px">10:00 - 11:00</div><div class="t mut" style="letter-spacing:-0.05px;left:502px;top:1749.0px">Diligence</div><div class="t" style="letter-spacing:-0.45px;left:625px;top:1749.0px;color:#f44336">- 8.02%</div><div class="t b" style="letter-spacing:-0.27px;left:707px;top:1747.6px;font-size:15px">$1,268</div>
<div class="t b" style="letter-spacing:0.25px;left:353px;top:1807.5px">Twitter ads</div><div class="t mut" style="letter-spacing:-0.14px;left:371px;top:1827.0px;font-size:12px">04:00 - 05:00</div><div class="t mut" style="letter-spacing:-0.23px;left:502px;top:1816.5px">Deluxe</div><div class="t" style="letter-spacing:-0.41px;left:625px;top:1816.5px;color:#43a047">2.78%</div><div class="t b" style="letter-spacing:-0.27px;left:707px;top:1815.1px;font-size:15px">$7,467</div>
<div class="t b" style="letter-spacing:0.09px;left:353px;top:1922.0px">Bing campaign</div><div class="t mut" style="letter-spacing:-0.14px;left:371px;top:1941.5px;font-size:12px">15:00 - 16:00</div><div class="t mut" style="letter-spacing:0.24px;left:502px;top:1931.0px">Metrics</div><div class="t" style="letter-spacing:-0.45px;left:625px;top:1931.0px;color:#f44336">- 5.78%</div><div class="t b" style="letter-spacing:-0.04px;left:707px;top:1929.6px;font-size:15px">$970</div>
<div class="t b" style="letter-spacing:0.09px;left:353px;top:1989.5px">Amazon ads</div><div class="t mut" style="letter-spacing:-0.14px;left:371px;top:2009.0px;font-size:12px">18:00 - 19:00</div><div class="t mut" style="letter-spacing:-0.05px;left:502px;top:1998.5px">Blueish</div><div class="t" style="letter-spacing:-0.41px;left:625px;top:1998.5px;color:#43a047">6.79%</div><div class="t b" style="letter-spacing:-0.27px;left:707px;top:1997.1px;font-size:15px">$1,540</div>
<div class="t b" style="left:353px;top:2056.5px">Dribbble ads</div><div class="t mut" style="letter-spacing:-0.14px;left:371px;top:2076.0px;font-size:12px">20:00 - 21:00</div><div class="t mut" style="letter-spacing:0.14px;left:502px;top:2065.5px">Teamable</div><div class="t" style="letter-spacing:-0.41px;left:625px;top:2065.5px;color:#f44336">9.83%</div><div class="t b" style="letter-spacing:-0.27px;left:707px;top:2064.1px;font-size:15px">$8,350</div>
<svg width="813" height="2167"><path d="M763.5 1383.5l3.5 3.5l3.5-3.5" fill="none" stroke="#333" stroke-width="1.4"/><path d="M379.6 1450.4l4.7-4.7l4.7 4.7" fill="none" stroke="#43a047" stroke-width="1.9"/><path d="M572.4 1445.6l4.7 4.7l4.7-4.7" fill="none" stroke="#f44336" stroke-width="1.9"/><circle cx="325.0" cy="1470.0" r="3" fill="#fff" stroke="#4caf50" stroke-width="2"/><circle cx="528.0" cy="1470.0" r="3" fill="#fff" stroke="#f44336" stroke-width="2"/><path d="M702.3 1463.3L708.1 1455.7L712 1458.9L717.8 1450.6 M708.8 1459.3L713.9 1462.5L717.9 1458.2 M702 1457.2h1.7" fill="none" stroke="#fff" stroke-width="1.4"/><circle cx="317" cy="1621.0" r="16" fill="#99d39f"/><path d="M305.7 1609.7l22.6 22.6M328.3 1609.7l-22.6 22.6" stroke="#b5e0b8" stroke-width="0.8" fill="none"/><circle cx="357.0" cy="1631.2" r="3" fill="#fff" stroke="#03a9f4" stroke-width="2"/><g transform="translate(599.5,1616.9)" fill="none" stroke="#43a047" stroke-width="1.5"><path d="M0.3 9.6L7.2 3.4L9.6 5.8L14.6 1.2"/><path d="M10.4 0H16V5.6Z" fill="#43a047" stroke="none"/></g><circle cx="317" cy="1688.5" r="16" fill="#99d39f"/><path d="M305.7 1677.2l22.6 22.6M328.3 1677.2l-22.6 22.6" stroke="#b5e0b8" stroke-width="0.8" fill="none"/><circle cx="357.0" cy="1698.7" r="3" fill="#fff" stroke="#f44336" stroke-width="2"/><g transform="translate(599.5,1684.4)" fill="none" stroke="#43a047" stroke-width="1.5"><path d="M0.3 9.6L7.2 3.4L9.6 5.8L14.6 1.2"/><path d="M10.4 0H16V5.6Z" fill="#43a047" stroke="none"/></g><circle cx="317" cy="1756.0" r="16" fill="#99d39f"/><path d="M305.7 1744.7l22.6 22.6M328.3 1744.7l-22.6 22.6" stroke="#b5e0b8" stroke-width="0.8" fill="none"/><circle cx="357.0" cy="1766.2" r="3" fill="#fff" stroke="#777" stroke-width="2"/><g transform="translate(599.5,1751.9)" fill="none" stroke="#f44336" stroke-width="1.5"><path d="M0.3 0.4L6.6 6.2L9.2 3.6L14.6 8.8"/><path d="M10.4 10H16V4.4Z" fill="#f44336" stroke="none"/></g><circle cx="317" cy="1823.5" r="16" fill="#99d39f"/><path d="M305.7 1812.2l22.6 22.6M328.3 1812.2l-22.6 22.6" stroke="#b5e0b8" stroke-width="0.8" fill="none"/><circle cx="357.0" cy="1833.7" r="3" fill="#fff" stroke="#777" stroke-width="2"/><g transform="translate(599.5,1819.4)" fill="none" stroke="#43a047" stroke-width="1.5"><path d="M0.3 9.6L7.2 3.4L9.6 5.8L14.6 1.2"/><path d="M10.4 0H16V5.6Z" fill="#43a047" stroke="none"/></g><circle cx="317" cy="1938.0" r="16" fill="#99d39f"/><path d="M305.7 1926.7l22.6 22.6M328.3 1926.7l-22.6 22.6" stroke="#b5e0b8" stroke-width="0.8" fill="none"/><circle cx="357.0" cy="1948.2" r="3" fill="#fff" stroke="#4caf50" stroke-width="2"/><g transform="translate(599.5,1933.9)" fill="none" stroke="#f44336" stroke-width="1.5"><path d="M0.3 0.4L6.6 6.2L9.2 3.6L14.6 8.8"/><path d="M10.4 10H16V4.4Z" fill="#f44336" stroke="none"/></g><circle cx="317" cy="2005.5" r="16" fill="#99d39f"/><path d="M305.7 1994.2l22.6 22.6M328.3 1994.2l-22.6 22.6" stroke="#b5e0b8" stroke-width="0.8" fill="none"/><circle cx="357.0" cy="2015.7" r="3" fill="#fff" stroke="#f44336" stroke-width="2"/><g transform="translate(599.5,2001.4)" fill="none" stroke="#43a047" stroke-width="1.5"><path d="M0.3 9.6L7.2 3.4L9.6 5.8L14.6 1.2"/><path d="M10.4 0H16V5.6Z" fill="#43a047" stroke="none"/></g><circle cx="317" cy="2072.5" r="16" fill="#99d39f"/><path d="M305.7 2061.2l22.6 22.6M328.3 2061.2l-22.6 22.6" stroke="#b5e0b8" stroke-width="0.8" fill="none"/><circle cx="357.0" cy="2082.7" r="3" fill="#fff" stroke="#03a9f4" stroke-width="2"/><g transform="translate(599.5,2068.4)" fill="none" stroke="#f44336" stroke-width="1.5"><path d="M0.3 0.4L6.6 6.2L9.2 3.6L14.6 8.8"/><path d="M10.4 10H16V4.4Z" fill="#f44336" stroke="none"/></g></svg>
<div class="t" style="letter-spacing:0.05px;left:280px;top:2131px;color:#8f8f8f">&copy; 2024. <span style="color:#1e88e5">MonitorsThree</span></div>
</body></html>
